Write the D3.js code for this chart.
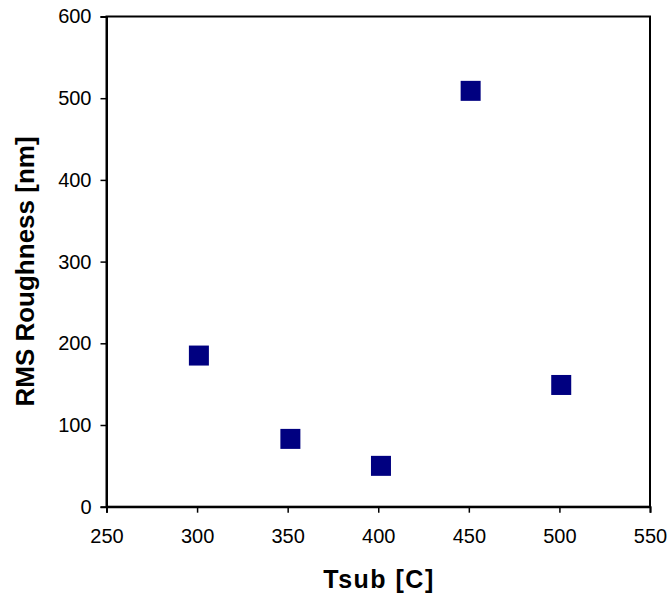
<!DOCTYPE html>
<html>
<head>
<meta charset="utf-8">
<script src="https://cdn.jsdelivr.net/npm/d3@7"></script>
<style>
  html, body { margin: 0; padding: 0; background: #fff; }
  svg { display: block; }
  .tick text { font-family: "Liberation Sans", Arial, sans-serif; font-size: 20px; fill: #000; }
  .axis-title { font-family: "Liberation Sans", Arial, sans-serif; font-weight: bold; fill: #000; }
</style>
</head>
<body>
<svg id="chart" width="670" height="600"></svg>
<script>
// Substrate temperature (C) and RMS roughness (nm)
const tsub = [301, 351.5, 401.5, 451, 501];
const roughness = [185, 83, 50, 509, 149];
const xTicks = [250, 300, 350, 400, 450, 500, 550];
const yTicks = [0, 100, 200, 300, 400, 500, 600];

const svg = d3.select("#chart");
const plot = { left: 106.5, right: 650, top: 16.5, bottom: 506.7 };

const x = d3.scaleLinear().domain([250, 550]).range([plot.left, plot.right]);
const y = d3.scaleLinear().domain([0, 600]).range([plot.bottom, plot.top]);

// frame around the plot area
svg.append("rect")
  .attr("x", plot.left).attr("y", plot.top)
  .attr("width", plot.right - plot.left).attr("height", plot.bottom - plot.top)
  .attr("fill", "none").attr("stroke", "#000").attr("stroke-width", 2);

const xAxis = svg.append("g")
  .attr("transform", `translate(0,${plot.bottom})`)
  .call(d3.axisBottom(x).tickValues(xTicks).tickSize(6).tickPadding(16).tickFormat(d3.format("d")));
const yAxis = svg.append("g")
  .attr("transform", `translate(${plot.left},0)`)
  .call(d3.axisLeft(y).tickValues(yTicks).tickSize(6).tickPadding(9).tickFormat(d3.format("d")));

[xAxis, yAxis].forEach(g => {
  g.select(".domain").attr("stroke", "#000").attr("stroke-width", 2);
  g.selectAll(".tick line").attr("stroke", "#000").attr("stroke-width", 1.5);
});

// square markers
const size = 20;
svg.append("g").selectAll("rect")
  .data(tsub.map((t, i) => ({ t, r: roughness[i] })))
  .join("rect")
  .attr("x", d => x(d.t) - size / 2)
  .attr("y", d => y(d.r) - size / 2)
  .attr("width", size).attr("height", size)
  .attr("fill", "#000080");

svg.append("text")
  .attr("class", "axis-title")
  .attr("x", 379).attr("y", 588)
  .attr("text-anchor", "middle")
  .style("font-size", "25px")
  .style("letter-spacing", "1.5px")
  .text("Tsub [C]");

svg.append("text")
  .attr("class", "axis-title")
  .attr("transform", "translate(34,271.5) rotate(-90)")
  .attr("text-anchor", "middle")
  .style("font-size", "26px")
  .text("RMS Roughness [nm]");
</script>
</body>
</html>
